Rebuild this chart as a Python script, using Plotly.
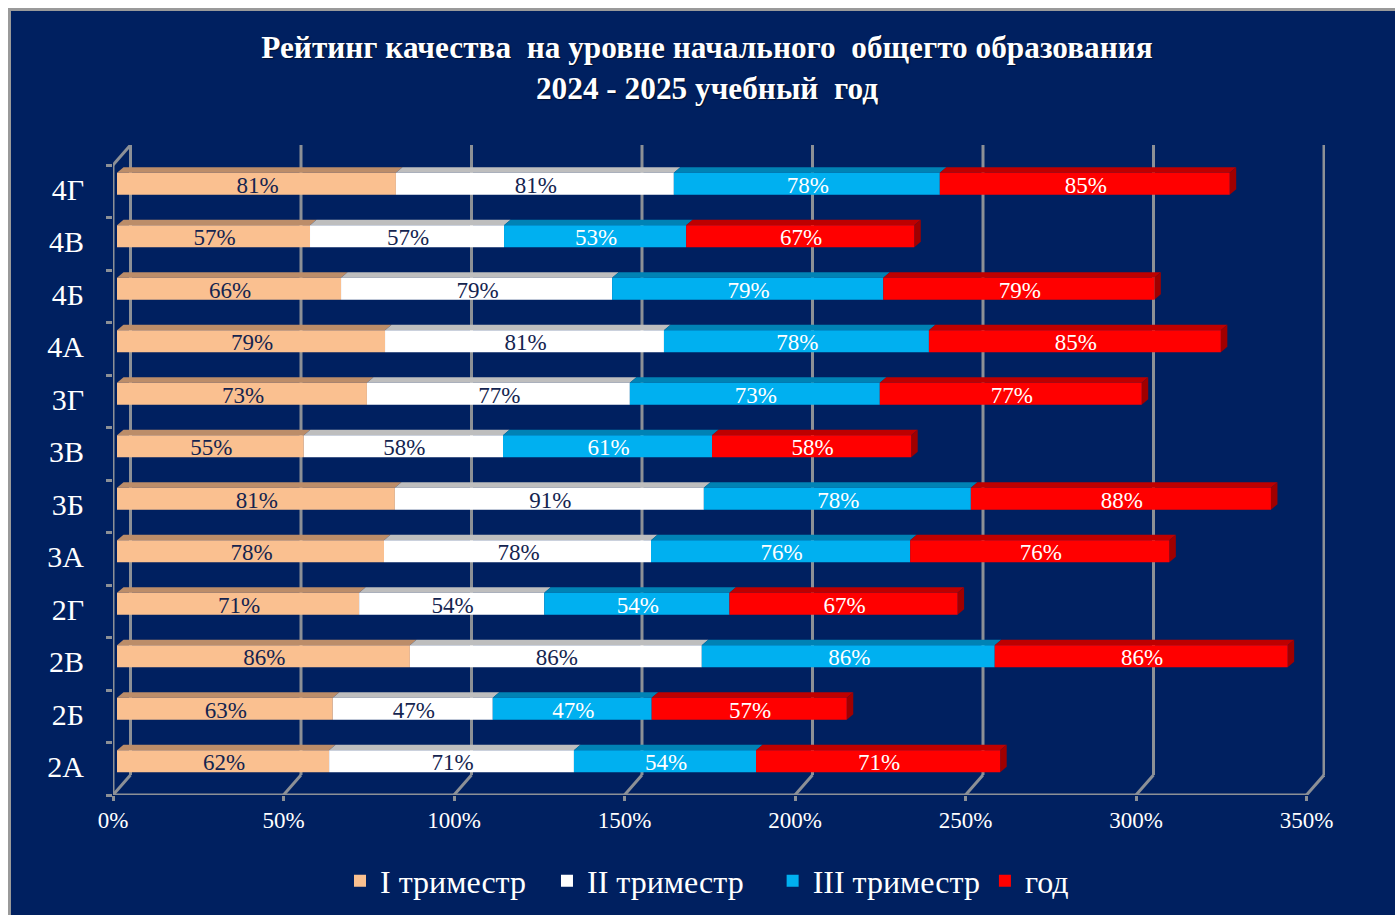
import plotly.graph_objects as go

W, H = 1395, 915
classes = ["2А", "2Б", "2В", "2Г", "3А", "3Б", "3В", "3Г", "4А", "4Б", "4В", "4Г"]
series_names = ["I триместр\u00a0\u00a0", "II триместр\u00a0\u00a0\u00a0", "III триместр", "год"]

# Bar lengths (in %)
term1 = [62.2, 63.3, 85.9, 71.0, 78.3, 81.5, 54.8, 73.3, 78.6, 65.7, 56.6, 81.8]
term2 = [71.8, 46.9, 85.6, 54.3, 78.3, 90.6, 58.4, 77.1, 81.8, 79.5, 56.9, 81.5]
term3 = [53.4, 46.6, 85.9, 54.3, 76.0, 78.3, 61.3, 73.3, 77.7, 79.5, 53.4, 78.0]
year = [71.6, 57.2, 85.9, 66.9, 76.0, 88.0, 58.4, 76.8, 85.6, 79.5, 66.9, 85.0]

# Data labels as printed on the picture
label1 = [62, 63, 86, 71, 78, 81, 55, 73, 79, 66, 57, 81]
label2 = [71, 47, 86, 54, 78, 91, 58, 77, 81, 79, 57, 81]
label3 = [54, 47, 86, 54, 76, 78, 61, 73, 78, 79, 53, 78]
label4 = [71, 57, 86, 67, 76, 88, 58, 77, 85, 79, 67, 85]

x_ticks = [0, 50, 100, 150, 200, 250, 300, 350]

front = ["#FAC090", "#FFFFFF", "#00B0F0", "#FF0000"]
top = ["#BC8D69", "#BEBEBE", "#0082B4", "#BE0000"]
text_col = ["#14244F", "#14244F", "#FFFFFF", "#FFFFFF"]
NAVY = "#002060"
GREY = "#8C9096"
SERIF = "Liberation Serif"

PX_X = 3.41      # pixels per percent
PX_Y = 52.5      # pixels per category
DX_WALL = 17.5 / PX_X
DY_WALL = 20 / PX_Y
BASE0 = 4 / PX_X
DX_BAR = 6.5 / PX_X
DY_BAR = 5.5 / PX_Y
BAR_H = 22 / PX_Y
BAR_UP = 7.5 / PX_Y

values = [term1, term2, term3, year]
labels = [label1, label2, label3, label4]
rows = [i + 0.5 for i in range(len(classes))]
centres = [r + BAR_UP for r in rows]
n = len(classes)

shapes = [
    dict(type="rect", xref="paper", yref="paper", layer="below",
         x0=9.5 / W, x1=1.02, y0=-0.02, y1=1 - 9.5 / H,
         fillcolor=NAVY, line=dict(color="#9A9A9A", width=3)),
]


def wall_line(x0, y0, x1, y1):
    shapes.append(dict(type="line", xref="x", yref="y", layer="below",
                       x0=x0, y0=y0, x1=x1, y1=y1, line=dict(color=GREY, width=3)))


for t in x_ticks:
    wall_line(t, 0, t + DX_WALL, DY_WALL)
    wall_line(t + DX_WALL, DY_WALL, t + DX_WALL, n + DY_WALL)
wall_line(0, 0, x_ticks[-1], 0)
wall_line(0, 0, 0, n)
wall_line(0, n, DX_WALL, n + DY_WALL)

bases = []
running = [BASE0] * n
for vals in values:
    bases.append(list(running))
    running = [r + v for r, v in zip(running, vals)]

for s, vals in enumerate(values):
    for i in range(n):
        a = bases[s][i]
        b = a + vals[i]
        up = centres[i] + BAR_H / 2
        shapes.append(dict(type="path", xref="x", yref="y", layer="below", line=dict(width=0),
                           fillcolor=top[s],
                           path=f"M{a},{up} L{b},{up} L{b + DX_BAR},{up + DY_BAR} L{a + DX_BAR},{up + DY_BAR} Z"))
for i in range(n):
    e = running[i]
    up = centres[i] + BAR_H / 2
    lo = centres[i] - BAR_H / 2
    shapes.append(dict(type="path", xref="x", yref="y", layer="below", line=dict(width=0),
                       fillcolor="#A00000",
                       path=f"M{e},{up} L{e + DX_BAR},{up + DY_BAR} L{e + DX_BAR},{lo + DY_BAR} L{e},{lo} Z"))

fig = go.Figure()
for s, vals in enumerate(values):
    fig.add_trace(go.Bar(
        y=centres, x=vals, base=bases[s], orientation="h", width=BAR_H,
        name=series_names[s], marker=dict(color=front[s], line=dict(width=0)),
    ))
for s, vals in enumerate(values):
    fig.add_trace(go.Scatter(
        x=[b + v / 2 + 1 / PX_X for b, v in zip(bases[s], vals)],
        y=[c - 3 / PX_Y for c in centres],
        mode="text", text=[f"{v}%" for v in labels[s]],
        textposition="middle center",
        textfont=dict(family=SERIF, size=23, color=text_col[s]),
        showlegend=False, hoverinfo="skip",
    ))

fig.update_layout(
    width=W, height=H, autosize=False,
    margin=dict(l=0, r=0, t=0, b=0, autoexpand=False),
    paper_bgcolor="#FFFFFF", plot_bgcolor="rgba(0,0,0,0)",
    barmode="overlay", shapes=shapes,
    title=dict(
        text="Рейтинг качества\u00a0 на уровне начального\u00a0 общегто образования<br>2024 - 2025 учебный\u00a0 год",
        x=707 / W, xanchor="center", y=1 - 58 / H, yanchor="top",
        font=dict(family=SERIF, size=31.3, color="#FFFFFF", weight="bold",
                  shadow="1px 1px 1px #00102F"),
    ),
    legend=dict(
        orientation="h", x=340 / W, xanchor="left", y=1 - 881 / H, yanchor="middle",
        font=dict(family=SERIF, size=32, color="#FFFFFF"),
        bgcolor="rgba(0,0,0,0)", traceorder="normal",
    ),
    xaxis=dict(
        domain=[113 / W, 1325 / W], range=[0, (1325 - 113) / PX_X],
        tickvals=x_ticks, ticktext=[f"{t}%" for t in x_ticks],
        ticks="outside", ticklen=5, tickwidth=2.5, tickcolor=GREY,
        showgrid=False, zeroline=False, showline=False,
        tickfont=dict(family=SERIF, size=23, color="#FFFFFF"),
        ticklabelstandoff=-1,
    ),
    yaxis=dict(
        domain=[1 - 795 / H, 1 - 145 / H], range=[0, (795 - 145) / PX_Y],
        tickvals=[r + 2 / PX_Y for r in rows], ticktext=classes,
        ticks="", showgrid=False, zeroline=False, showline=False,
        tickfont=dict(family=SERIF, size=30, color="#FFFFFF"),
        ticklabelstandoff=28,
        minor=dict(tickvals=list(range(n + 1)), ticks="outside", ticklen=6,
                   tickwidth=2.5, tickcolor=GREY),
    ),
)

fig.write_html("out.html", config=dict(displayModeBar=False),
               post_script="document.body.style.margin='0';document.body.style.overflow='hidden';")
